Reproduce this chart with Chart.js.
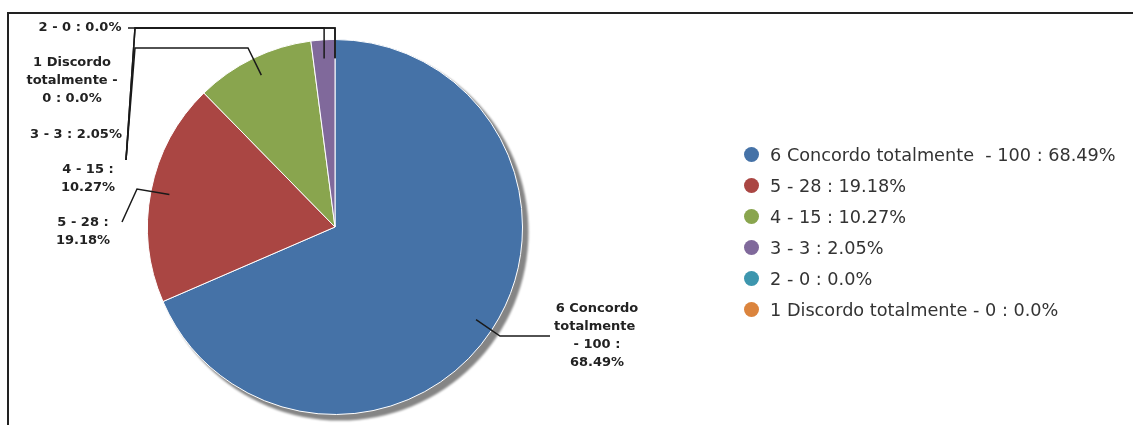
<!DOCTYPE html>
<html lang="pt-BR">
<head>
<meta charset="utf-8">
<title>Grafico de pizza</title>
<script src="https://cdn.jsdelivr.net/npm/chart.js@4/dist/chart.umd.min.js"></script>
<style>
    body { margin: 0; background: #fff; }
    #quadro { position: relative; width: 1133px; height: 425px; overflow: hidden; }
    #moldura { position: absolute; left: 7px; top: 12px; width: 1200px; height: 500px; border-top: 2px solid #222; border-left: 2px solid #222; }
    #grafico { position: absolute; left: 0; top: 0; }
    #legenda { position: absolute; left: 744px; top: 139px; margin: 0; padding: 0; list-style: none; font: 17.7px "DejaVu Sans"; color: #333; }
    #legenda li { height: 31px; display: flex; align-items: center; white-space: pre; }
    #legenda span.marca { width: 15px; height: 15px; border-radius: 50%; margin-right: 11px; display: inline-block; }
</style>
</head>
<body>
<div id="quadro">
    <div id="moldura"></div>
    <canvas id="grafico" width="1133" height="425"></canvas>
    <ul id="legenda"></ul>
</div>
<script>
const categorias = ['6 Concordo totalmente ', '5', '4', '3', '2', '1 Discordo totalmente'];
const valores = [100, 28, 15, 3, 0, 0];
const cores = ['#4572A7', '#AA4643', '#89A54E', '#80699B', '#3D96AE', '#DB843D'];

// posicao (centro do texto, primeira linha) de cada rotulo
const posRotulos = [[597, 309], [83, 223], [88, 170], [76, 135], [80, 28], [72, 63]];
const largRotulos = [90, 98, 98, 98, 98, 98];
// caminho das linhas de ligacao (null = x da ancora)
const rotasLigacao = [
    [[550, 336], [500, 336]],
    [[122, 222], [137, 189]],
    [[126, 160], [135, 48], [248, 48]],
    [[126, 160], [135, 28], [null, 28]],
    [[128, 28], [null, 28]],
    [[126, 160], [135, 28], [null, 28]]
];

const total = valores.reduce((a, b) => a + b, 0);

function formataPct(v) {
    let p = String(Math.round(v / total * 10000) / 100);
    if (p.indexOf('.') < 0) p += '.0';
    return p;
}

const textos = categorias.map((c, i) => `${c} - ${valores[i]} : ${formataPct(valores[i])}%`);

//Monta a legenda
document.getElementById('legenda').innerHTML = textos.map((t, i) => `
    <li><span class="marca" style="background:${cores[i]}"></span>${t}</li>
`).join('');

function quebraTexto(ctx, texto, largura) {
    const palavras = texto.split(' ');
    let linhas = [];
    let atual = '';
    palavras.forEach(p => {
        const teste = atual === '' ? p : atual + ' ' + p;
        if (atual !== '' && ctx.measureText(teste).width > largura) {
            linhas.push(atual);
            atual = p;
        } else {
            atual = teste;
        }
    });
    if (atual !== '') linhas.push(atual);
    return linhas;
}

//Sombra atras da pizza
const sombra = {
    id: 'sombra',
    beforeDatasetsDraw(chart) {
        const arco = chart.getDatasetMeta(0).data[0];
        const ctx = chart.ctx;
        ctx.save();
        ctx.filter = 'blur(1px)';
        ctx.fillStyle = 'rgba(0,0,0,0.48)';
        ctx.beginPath();
        ctx.arc(arco.x + 5, arco.y + 5, arco.outerRadius + 1, 0, Math.PI * 2);
        ctx.fill();
        ctx.restore();
    }
};

//Rotulos com linhas de ligacao
const rotulos = {
    id: 'rotulos',
    afterDatasetsDraw(chart) {
        const ctx = chart.ctx;
        const arcos = chart.getDatasetMeta(0).data;
        ctx.save();
        ctx.strokeStyle = '#1a1a1a';
        ctx.lineWidth = 1.5;
        arcos.forEach((arco, i) => {
            const meio = (arco.startAngle + arco.endAngle) / 2;
            const ax = arco.x + Math.cos(meio) * arco.outerRadius * 0.9;
            const ay = arco.y + Math.sin(meio) * arco.outerRadius * 0.9;
            ctx.beginPath();
            rotasLigacao[i].forEach((p, k) => {
                const px = p[0] === null ? ax : p[0];
                if (k === 0) ctx.moveTo(px, p[1]);
                else ctx.lineTo(px, p[1]);
            });
            ctx.lineTo(ax, ay);
            ctx.stroke();
        });
        ctx.font = 'bold 13px "DejaVu Sans"';
        ctx.fillStyle = '#222';
        ctx.textAlign = 'center';
        ctx.textBaseline = 'middle';
        textos.forEach((t, i) => {
            const linhas = quebraTexto(ctx, t, largRotulos[i]);
            linhas.forEach((l, k) => {
                ctx.fillText(l, posRotulos[i][0], posRotulos[i][1] + k * 18);
            });
        });
        ctx.restore();
    }
};

new Chart(document.getElementById('grafico'), {
    type: 'pie',
    data: {
        labels: categorias,
        datasets: [{
            data: valores,
            backgroundColor: cores,
            borderColor: '#fff',
            borderWidth: 1
        }]
    },
    options: {
        responsive: false,
        animation: false,
        layout: { padding: { left: 147, top: 39, right: 610, bottom: 10 } },
        plugins: {
            legend: { display: false },
            tooltip: { enabled: false }
        }
    },
    plugins: [sombra, rotulos]
});
</script>
</body>
</html>
